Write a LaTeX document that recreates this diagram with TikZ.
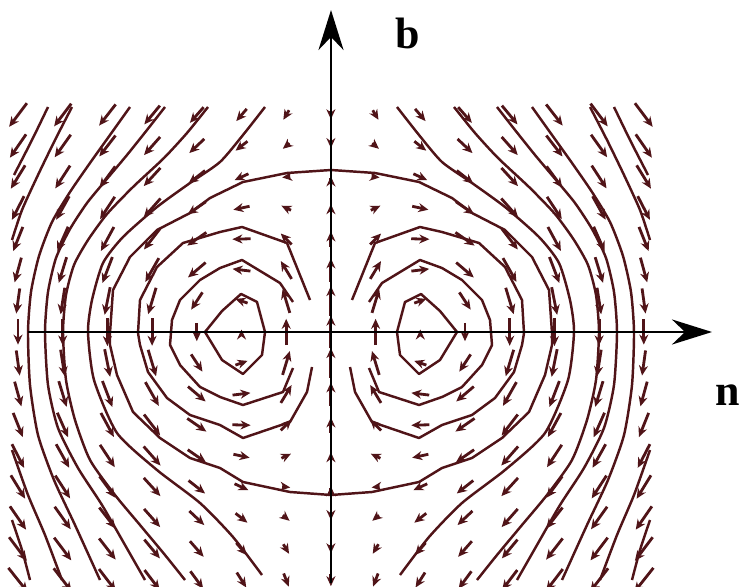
\documentclass[tikz,border=0pt]{standalone}
\usepackage{fontspec}
\setmainfont{Liberation Serif}
\usetikzlibrary{arrows.meta}
\definecolor{flow}{RGB}{80,20,24}
\begin{document}
\begin{tikzpicture}[x=0.02cm,y=-0.02cm,>=Stealth]
\useasboundingbox (0,0) rectangle (740,587);

% velocity arrows on the grid
\foreach \i in {0,...,14}{
  \foreach \j in {0,...,15}{
    \pgfmathsetmacro\X{(\i-7)*0.4755}
    \pgfmathsetmacro\Y{(7-\j)*0.33}
    \pgfmathsetmacro\fa{2.81/((\X+1)*(\X+1)+\Y*\Y+1)}
    \pgfmathsetmacro\fb{2.81/((\X-1)*(\X-1)+\Y*\Y+1)}
    \pgfmathsetmacro\U{(\fb-\fa)*\Y+0.09*\X*\Y}
    \pgfmathsetmacro\V{\fa*(\X+1)-\fb*(\X-1)-1-0.045*\Y*\Y}
    \pgfmathsetmacro\xa{18+\i*44.7-9*(\U)}
    \pgfmathsetmacro\ya{115+\j*31+9*(\V)}
    \pgfmathsetmacro\xb{18+\i*44.7+9*(\U)}
    \pgfmathsetmacro\yb{115+\j*31-9*(\V)}
    \draw[flow,line width=1.6pt,-{Stealth[length=0.2cm,width=0.18cm]}] (\xa,\ya) -- (\xb,\yb);
  }
}

% streamlines, left half and its mirror image
\foreach \sg in {1,-1}{
\begin{scope}[shift={(331,0)},xscale=\sg,shift={(-331,0)},flow,line width=1.4pt,line join=round]
  % rings round the vortex
  \draw (205,332) -- (222,311) -- (241,294) -- (257,302) -- (265,332) -- (262,355) -- (243,374) -- (222,360) -- cycle;
  \draw (293,302) -- (280,283) -- (242,260) -- (220,268) -- (200,280) -- (180,300) -- (172,320) -- (170,345) -- (180,365) -- (200,387) -- (220,397) -- (243,405) -- (283,392) -- (293,368);
  \draw (310,300) -- (287,243) -- (242,227) -- (220,232) -- (183,243) -- (157,267) -- (140,300) -- (138,333) -- (140,345) -- (148,372) -- (167,398) -- (190,415) -- (220,425) -- (243,438) -- (290,422) -- (307,392) -- (312,367);
  % closed oval
  \draw (331,170) -- (287,173) -- (243,182) -- (210,198) -- (190,213) -- (157,230) -- (130,257) -- (113,290) -- (110,333) -- (110,345) -- (117,375) -- (133,412) -- (160,438) -- (190,458) -- (220,468) -- (243,482) -- (290,492) -- (331,495);
  % open lines outside
  \draw plot[smooth,tension=0.4] coordinates {(265,107) (243,135) (220,162) (190,183) (157,207) (123,237) (103,263) (92,300) (88,332) (94,380) (117,433) (157,470) (200,503) (233,537) (262,575)};
  \draw plot[smooth,tension=0.4] coordinates {(208,107) (187,133) (164,158) (133,187) (107,214) (88,240) (74,265) (66,295) (63,332) (66,380) (75,420) (90,460) (115,495) (140,525) (165,555) (185,580)};
  \draw plot[smooth,tension=0.4] coordinates {(165,107) (147,130) (127,155) (106,180) (87,203) (70,229) (56,258) (48,292) (45,332) (48,385) (58,428) (78,468) (102,505) (125,545) (145,580)};
  \draw plot[smooth,tension=0.4] coordinates {(130,107) (110,135) (90,163) (70,192) (52,222) (39,256) (31,292) (28,332) (30,385) (38,435) (54,480) (75,525) (100,580)};
  \draw plot[smooth,tension=0.4] coordinates {(72,107) (55,140) (38,175) (22,210) (12,240)};
  \draw plot[smooth,tension=0.4] coordinates {(48,107) (32,140) (14,175)};
  \draw plot[smooth,tension=0.4] coordinates {(12,450) (28,495) (45,535) (62,580)};
  \draw plot[smooth,tension=0.4] coordinates {(12,520) (22,550) (30,580)};
\end{scope}
}

% axes
\coordinate (nstart) at (28,332);
\coordinate (ntip) at (712,332);
\coordinate (bstart) at (331,583);
\coordinate (btip) at (331,10);
\draw[line width=1.7pt,-{Stealth[length=0.8cm,width=0.5cm]}] (nstart) -- (ntip);
\draw[line width=1.7pt,-{Stealth[length=0.8cm,width=0.5cm]}] (bstart) -- (btip);
\node (blabel) at (408,33) {\fontsize{25}{30}\selectfont\bfseries b};
\node (nlabel) at (728,395) {\fontsize{25}{30}\selectfont\bfseries n};
\end{tikzpicture}
\end{document}
